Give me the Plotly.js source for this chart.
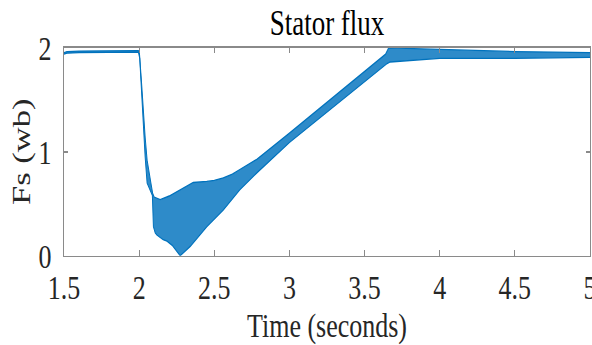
<!DOCTYPE html>
<html>
<head>
<meta charset="utf-8">
<script src="https://cdn.plot.ly/plotly-3.0.1.min.js"></script>
<style>
html,body{margin:0;padding:0;background:#fff;overflow:hidden;}
#wrap{width:592px;height:345px;overflow:hidden;}
#chart{width:592px;height:259px;transform:scale(1,1.332);transform-origin:0 0;}
</style>
</head>
<body>
<div id="wrap"><div id="chart"></div></div>
<script>
// Upper envelope of the oscillating stator flux
var tUpper  = [1.5, 1.52, 1.6, 1.8, 1.995, 2.002, 2.008, 2.018, 2.04, 2.053, 2.078, 2.09, 2.1, 2.14, 2.2, 2.23, 2.3, 2.36, 2.45, 2.5, 2.56, 2.62, 2.67, 2.785, 3.0, 3.2, 3.4, 3.6, 3.64, 3.66, 3.8, 4.0, 4.5, 5.0];
var fsUpper = [1.955, 1.965, 1.97, 1.975, 1.975, 1.95, 1.85, 1.62, 1.14, 0.92, 0.70, 0.60, 0.565, 0.54, 0.575, 0.60, 0.66, 0.705, 0.715, 0.725, 0.75, 0.785, 0.83, 0.93, 1.18, 1.415, 1.65, 1.885, 1.94, 2.0, 1.995, 1.98, 1.965, 1.955];
// Lower envelope
var tLower  = [1.5, 1.52, 1.6, 1.8, 1.995, 2.004, 2.018, 2.04, 2.053, 2.078, 2.088, 2.095, 2.107, 2.118, 2.16, 2.185, 2.22, 2.273, 2.34, 2.45, 2.56, 2.67, 2.785, 3.0, 3.2, 3.4, 3.6, 3.65, 3.67, 3.8, 4.0, 4.5, 5.0];
var fsLower = [1.94, 1.95, 1.955, 1.96, 1.96, 1.9, 1.50, 0.95, 0.70, 0.61, 0.58, 0.28, 0.22, 0.20, 0.154, 0.14, 0.10, 0.0, 0.09, 0.28, 0.44, 0.635, 0.80, 1.09, 1.325, 1.56, 1.795, 1.85, 1.865, 1.88, 1.90, 1.90, 1.91];

var xTicks = [1.5, 2, 2.5, 3, 3.5, 4, 4.5, 5];
var xTickLabels = ['1.5', '2', '2.5', '3', '3.5', '4', '4.5', '5'];
var yTicks = [0, 1, 2];
var yTickLabels = ['0', '1', '2'];

var lineColor = '#0072BD';
var serif = 'Liberation Serif';

var traces = [
  {x: tLower, y: fsLower, type: 'scatter', mode: 'lines',
   line: {color: lineColor, width: 1}, hoverinfo: 'skip', showlegend: false},
  {x: tUpper, y: fsUpper, type: 'scatter', mode: 'lines', fill: 'tonexty',
   fillcolor: 'rgba(0,114,189,0.82)',
   line: {color: lineColor, width: 1}, hoverinfo: 'skip', showlegend: false}
];

function axisBase() {
  return {
    showgrid: false, zeroline: false, showline: true, linecolor: '#8a8a8a', linewidth: 1.2,
    mirror: 'ticks', ticks: 'inside', ticklen: 4, tickcolor: '#8a8a8a', tickwidth: 1,
    ticklabeloverflow: 'allow',
    tickfont: {family: serif, size: 26, color: '#262626'}
  };
}

var xaxis = axisBase();
xaxis.range = [1.5, 5];
xaxis.tickmode = 'array';
xaxis.tickvals = xTicks;
xaxis.ticktext = xTickLabels;
xaxis.ticklabelstandoff = 0;
xaxis.title = {text: 'Time (seconds)', font: {family: serif, size: 26, color: '#262626'}};

var yaxis = axisBase();
yaxis.range = [0, 2];
yaxis.tickmode = 'array';
yaxis.tickvals = yTicks;
yaxis.ticktext = yTickLabels;
yaxis.ticklabelstandoff = 6;

var layout = {
  width: 592, height: 259,
  margin: {l: 64, r: 2, t: 36, b: 67},
  paper_bgcolor: '#ffffff', plot_bgcolor: '#ffffff',
  font: {family: serif, size: 26, color: '#262626'},
  title: {text: 'Stator flux', font: {family: serif, size: 27, color: '#000000'},
          x: 0.5, xref: 'paper', y: 1 - 22/345, yref: 'container', yanchor: 'middle'},
  xaxis: xaxis,
  yaxis: yaxis,
  annotations: [{
    text: 'Fs (wb)', textangle: -90, showarrow: false,
    xref: 'paper', yref: 'paper', x: (21 - 64) / 526, y: 0.5,
    xanchor: 'center', yanchor: 'middle',
    font: {family: serif, size: 26, color: '#262626'}
  }]
};

Plotly.newPlot('chart', traces, layout, {displayModeBar: false, staticPlot: true});
</script>
</body>
</html>
